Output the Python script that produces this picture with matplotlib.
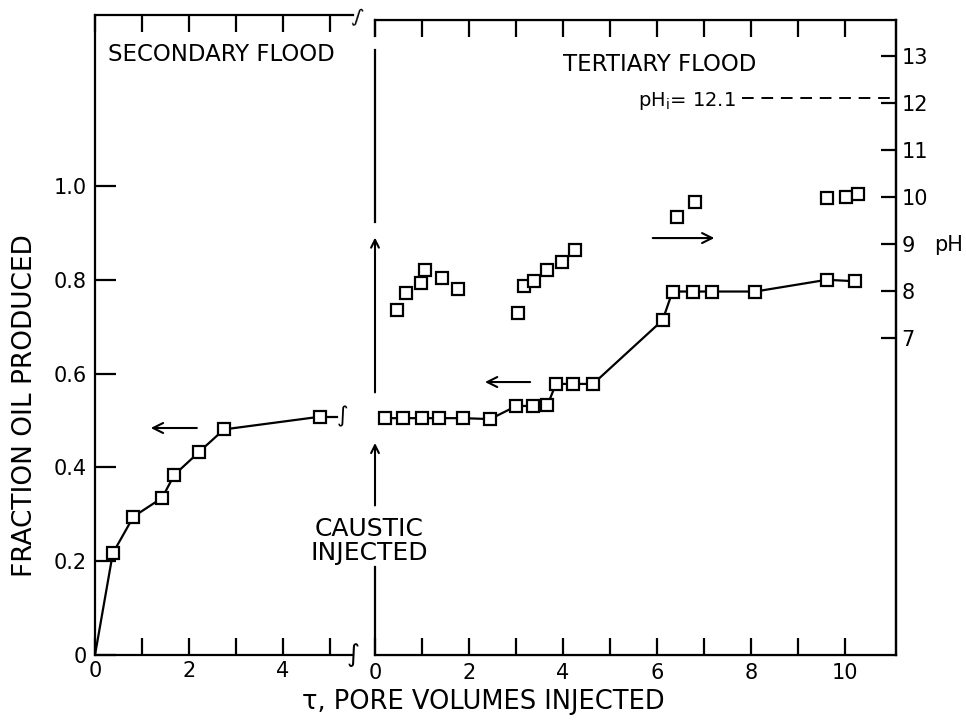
import matplotlib
matplotlib.use("Agg")
import matplotlib.pyplot as plt

# ---------------------------------------------------------------------------
# DATA
# ---------------------------------------------------------------------------
# secondary flood: oil recovery vs pore volumes
sec_tau = [0.0, 0.38, 0.82, 1.43, 1.69, 2.22, 2.75, 4.79]
sec_frac = [0.0, 0.217, 0.295, 0.335, 0.384, 0.433, 0.481, 0.508]

# tertiary flood: oil recovery vs pore volumes
ter_tau = [0.21, 0.60, 0.99, 1.37, 1.87, 2.45, 3.01, 3.37, 3.67, 3.85, 4.22,
           4.64, 6.12, 6.33, 6.77, 7.16, 8.09, 9.61, 10.21]
ter_frac = [0.505, 0.505, 0.505, 0.505, 0.505, 0.503, 0.531, 0.531, 0.533,
            0.578, 0.578, 0.578, 0.714, 0.775, 0.775, 0.775, 0.775, 0.800, 0.797]

# tertiary flood: effluent pH
ph_tau = [0.46, 0.67, 0.98, 1.06, 1.42, 1.77, 3.05, 3.16, 3.38, 3.67, 3.97,
          4.26, 6.42, 6.81, 9.61, 10.02, 10.28]
ph_val = [7.60, 7.96, 8.16, 8.45, 8.27, 8.04, 7.53, 8.11, 8.22, 8.45, 8.62,
          8.87, 9.58, 9.90, 9.97, 9.99, 10.06]

ph_injected = 12.1

frac_ticks = [0, 0.2, 0.4, 0.6, 0.8, 1.0]
frac_labels = ["0", "0.2", "0.4", "0.6", "0.8", "1.0"]
ph_ticks = [7, 8, 9, 10, 11, 12, 13]

# ---------------------------------------------------------------------------
# FIGURE
# ---------------------------------------------------------------------------
W, H = 966, 724
fig = plt.figure(figsize=(W / 100, H / 100), dpi=100)

def px_axes(x0, y_top, x1, y_bot):
    return fig.add_axes([x0 / W, 1 - y_bot / H, (x1 - x0) / W, (y_bot - y_top) / H])

LW = 1.6
mk = dict(marker="s", ms=8.5, mfc="white", mec="black", mew=1.6)

# --- left panel: secondary flood ---
ax_l = px_axes(95, 15, 353, 655)
ax_l.set_xlim(0, 5.5)
ax_l.set_ylim(0, 640 / 469)
ax_l.plot(sec_tau, sec_frac, color="black", lw=LW,
          markevery=list(range(1, len(sec_tau))), **mk)
ax_l.plot([sec_tau[-1], 5.15], [sec_frac[-1]] * 2, color="black", lw=LW, zorder=1)
ax_l.text(5.28, sec_frac[-1], "∫", fontsize=16, ha="center", va="center")
ax_l.text(5.5, 0, "∫", fontsize=18, ha="center", va="center", clip_on=False)
ax_l.text(5.6, 640 / 469 - 0.005, "∫", fontsize=14, ha="center", va="center",
          clip_on=False, rotation=-15)

ax_l.spines["right"].set_visible(False)
for s in ax_l.spines.values():
    s.set_linewidth(LW)
ax_l.set_xticks(range(6))
ax_l.set_xticklabels(["0", "", "2", "", "4", ""])
ax_l.set_yticks(frac_ticks)
ax_l.set_yticklabels(frac_labels)
ax_l.tick_params(axis="x", direction="in", length=12, width=LW, top=True,
                 labelsize=15, pad=4)
ax_l.tick_params(axis="y", direction="in", length=15, width=LW, labelsize=15, pad=6)
ax_l.annotate("", xy=(1.13, 0.484), xytext=(2.23, 0.484),
              arrowprops=dict(arrowstyle="->", lw=1.5, mutation_scale=18))
ax_l.text(2.7, 1.28, "SECONDARY FLOOD", fontsize=16.5, ha="center", va="center")

# --- right panel: tertiary flood ---
ax_r = px_axes(375, 20, 896, 655)
ax_r.set_xlim(0, 521 / 47)
ax_r.set_ylim(0, 635 / 469)
ax_r.plot(ter_tau, ter_frac, color="black", lw=LW, **mk)
ax_r.spines["left"].set_visible(False)
for s in ax_r.spines.values():
    s.set_linewidth(LW)
ax_r.set_xticks(range(11))
ax_r.set_xticklabels([str(t) if t % 2 == 0 else "" for t in range(11)])
ax_r.set_yticks([])
ax_r.tick_params(axis="x", direction="in", length=12, width=LW, top=True,
                 labelsize=15, pad=6)
ax_r.annotate("", xy=(2.28, 0.582), xytext=(3.36, 0.582),
              arrowprops=dict(arrowstyle="->", lw=1.5, mutation_scale=18))
ax_r.annotate("", xy=(7.28, 0.889), xytext=(5.85, 0.889),
              arrowprops=dict(arrowstyle="->", lw=1.5, mutation_scale=18))
ax_r.text(6.05, 1.26, "TERTIARY FLOOD", fontsize=16.5, ha="center", va="center")

# broken left edge of tertiary panel with "caustic injected" arrows
ax_r.plot([0, 0], [1.32, 635 / 469], color="black", lw=LW, clip_on=False)
ax_r.plot([0, 0], [0.923, 1.29], color="black", lw=LW, clip_on=False)
ax_r.plot([0, 0], [0, 0.188], color="black", lw=LW, clip_on=False)
ax_r.annotate("", xy=(0, 0.896), xytext=(0, 0.554),
              arrowprops=dict(arrowstyle="->", lw=1.5, mutation_scale=14),
              annotation_clip=False)
ax_r.annotate("", xy=(0, 0.458), xytext=(0, 0.313),
              arrowprops=dict(arrowstyle="->", lw=1.5, mutation_scale=14),
              annotation_clip=False)
ax_r.text(-0.13, 0.243, "CAUSTIC\nINJECTED", fontsize=18, ha="center",
          va="center", linespacing=1.0)

# pH on right-hand axis
ax_ph = ax_r.twinx()
ax_ph.set_ylim(8 - 364 / 47, 8 + 271 / 47)
ax_ph.plot(ph_tau, ph_val, ls="none", **mk)
ax_ph.plot([7.8, 521 / 47], [ph_injected] * 2, color="black", lw=1.4,
           ls=(0, (6, 4)))
ax_ph.text(7.68, ph_injected - 0.05, r"pH$_\mathregular{i}$= 12.1", fontsize=14,
           ha="right", va="center")
ax_ph.spines["left"].set_visible(False)
ax_ph.spines["right"].set_linewidth(LW)
ax_ph.set_yticks(ph_ticks)
ax_ph.tick_params(axis="y", direction="in", length=11, width=LW, labelsize=15, pad=4)
ax_ph.text(1.1, 0.645, "pH", transform=ax_ph.transAxes, fontsize=15,
           ha="center", va="center")

# axis titles
fig.text(25 / W, 1 - 406 / H, "FRACTION OIL PRODUCED", rotation=90,
         fontsize=19, ha="center", va="center")
fig.text(483 / W, 1 - 702 / H, "τ, PORE VOLUMES INJECTED", fontsize=18.5,
         ha="center", va="center")

fig.savefig("out.png", dpi=100, facecolor="white")
